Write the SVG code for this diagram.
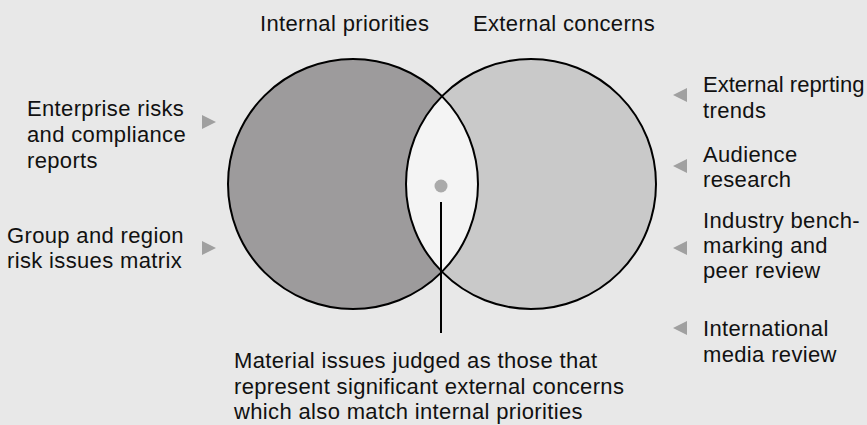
<svg xmlns="http://www.w3.org/2000/svg" width="867" height="425" viewBox="0 0 867 425">
  <style>
    .lbl { font-family: "Liberation Sans", Arial, Helvetica, sans-serif; font-size: 22px; letter-spacing: 0.35px; fill: #111; }
    .tight { letter-spacing: 0; }
    .ring { fill: none; stroke: #000; stroke-width: 2; }
    .tri { fill: #a0a0a0; }
  </style>
  <rect width="867" height="425" fill="#e8e8e8"/>

  <!-- Venn circles -->
  <g id="internal">
    <circle cx="353" cy="184" r="125" fill="#9d9b9c"/>
  </g>
  <g id="external">
    <circle cx="531" cy="184" r="125" fill="#c9c9c9"/>
  </g>
  <g id="overlap">
    <path d="M442,96.2 A125,125 0 0,1 442,271.8 A125,125 0 0,1 442,96.2 Z" fill="#f4f4f4"/>
    <circle cx="441" cy="186" r="6.5" fill="#aaaaaa"/>
  </g>
  <circle class="ring" cx="353" cy="184" r="125"/>
  <circle class="ring" cx="531" cy="184" r="125"/>

  <!-- Titles -->
  <g id="title-internal"><text class="lbl" x="260" y="31">Internal priorities</text></g>
  <g id="title-external"><text class="lbl" x="473" y="31">External concerns</text></g>

  <!-- Left inputs -->
  <g id="enterprise-risks">
    <text class="lbl" x="27" y="116">Enterprise risks</text>
    <text class="lbl" x="27" y="142">and compliance</text>
    <text class="lbl" x="27" y="168">reports</text>
  </g>
  <g id="group-region">
    <text class="lbl" x="7" y="243">Group and region</text>
    <text class="lbl" x="7" y="268">risk issues matrix</text>
  </g>

  <!-- Right inputs -->
  <g id="reporting-trends">
    <text class="lbl tight" x="703" y="92">External reprting</text>
    <text class="lbl" x="703" y="118">trends</text>
  </g>
  <g id="audience-research">
    <text class="lbl" x="703" y="162">Audience</text>
    <text class="lbl" x="703" y="187">research</text>
  </g>
  <g id="benchmarking">
    <text class="lbl" x="703" y="228">Industry bench-</text>
    <text class="lbl" x="703" y="253">marking and</text>
    <text class="lbl" x="703" y="278">peer review</text>
  </g>
  <g id="media-review">
    <text class="lbl" x="703" y="336">International</text>
    <text class="lbl" x="703" y="362">media review</text>
  </g>

  <!-- Caption -->
  <g id="material-issues">
    <text class="lbl" x="234" y="368">Material issues judged as those that</text>
    <text class="lbl" x="234" y="394">represent significant external concerns</text>
    <text class="lbl" x="234" y="419">which also match internal priorities</text>
  </g>

  <!-- Connectors: pointer and input arrows -->
  <g id="connectors">
    <line x1="441" y1="202" x2="441" y2="333" stroke="#000" stroke-width="2"/>
    <polygon class="tri" points="202,115 216,122 202,129"/>
    <polygon class="tri" points="202,241 216,248 202,255"/>
    <polygon class="tri" points="687,88 673,95 687,102"/>
    <polygon class="tri" points="687,159 673,166 687,173"/>
    <polygon class="tri" points="687,241 673,248 687,255"/>
    <polygon class="tri" points="687,321 673,328 687,335"/>
  </g>
</svg>
